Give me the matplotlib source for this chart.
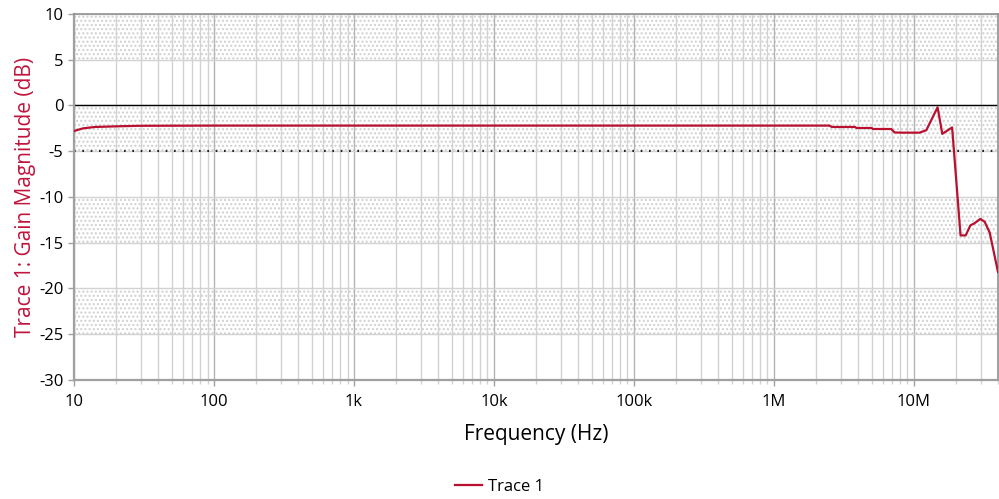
import matplotlib
matplotlib.use("Agg")
import matplotlib.pyplot as plt
from matplotlib.ticker import FixedLocator, LogLocator, NullFormatter

plt.rcParams["font.family"] = ["Open Sans", "DejaVu Sans"]
plt.rcParams["axes.unicode_minus"] = False
plt.rcParams["hatch.linewidth"] = 1.0

# frequency (Hz) and gain (dB)
freq_hz = [10, 11.6, 14.1, 20, 29.6, 100, 1e3, 1e4, 1e5, 1e6, 2.5e6, 2.6e6, 3.8e6, 3.9e6,
           5.0e6, 5.1e6, 6.9e6, 7.3e6, 8.2e6, 11.0e6, 12.3e6, 14.8e6, 16.0e6, 18.8e6,
           21.6e6, 23.5e6, 25.4e6, 27.0e6, 29.9e6, 32.1e6, 34.9e6, 40e6]
gain_db = [-2.79, -2.5, -2.35, -2.28, -2.22, -2.2, -2.2, -2.2, -2.2, -2.2, -2.2, -2.35, -2.35, -2.46,
           -2.46, -2.57, -2.57, -2.95, -2.97, -2.97, -2.7, -0.2, -3.1, -2.4,
           -14.2, -14.2, -13.1, -12.9, -12.4, -12.7, -13.9, -18.2]

x_ticks = [10, 100, 1e3, 1e4, 1e5, 1e6, 1e7]
x_labels = ["10", "100", "1k", "10k", "100k", "1M", "10M"]
y_ticks = [-30, -25, -20, -15, -10, -5, 0, 5, 10]
shaded_bands = [(5, 10), (-5, 0), (-15, -10), (-25, -20)]

red = "#b8102e"
grid_gray = "#d2d2d2"
axis_gray = "#a0a0a0"

fig = plt.figure(figsize=(9.99, 4.99), dpi=100)
ax = fig.add_axes([0.0741, 0.2385, 0.9249, 0.7335])

for lo, hi in shaded_bands:
    ax.axhspan(lo, hi, facecolor="none", edgecolor="#d0d0d0", hatch="....", linewidth=0, zorder=0)

ax.set_xscale("log")
ax.set_xlim(10, 40e6)
ax.set_ylim(-30, 10)

ax.xaxis.set_major_locator(FixedLocator(x_ticks))
ax.set_xticklabels(x_labels)
ax.xaxis.set_minor_locator(LogLocator(base=10, subs=range(2, 10)))
ax.xaxis.set_minor_formatter(NullFormatter())
ax.set_yticks(y_ticks)

ax.grid(True, which="major", axis="x", color="#b4b4b4", linewidth=1.0, zorder=1)
ax.grid(True, which="minor", axis="x", color=grid_gray, linewidth=1.0, zorder=1)
ax.grid(True, which="major", axis="y", color=grid_gray, linewidth=1.0, zorder=1)
ax.set_axisbelow(True)

ax.axhline(0, color="black", linewidth=1.0, zorder=2)
ax.axhline(-5, color="black", linewidth=1.2, linestyle=(0, (1, 4)), zorder=2)

ax.plot(freq_hz, gain_db, color=red, linewidth=1.6, label="Trace 1", zorder=3)

for side in ["left", "bottom"]:
    ax.spines[side].set_color(axis_gray)
    ax.spines[side].set_linewidth(1.6)
for side in ["top", "right"]:
    ax.spines[side].set_color("#909090")
    ax.spines[side].set_linewidth(1.2)

ax.tick_params(axis="both", which="major", labelsize=12, color=axis_gray, length=4, width=1)
ax.tick_params(axis="x", which="minor", color=grid_gray, length=3, width=1)
ax.tick_params(axis="x", pad=6)

ax.set_xlabel("Frequency (Hz)", fontsize=15, labelpad=10)
ax.set_ylabel("Trace 1: Gain Magnitude (dB)", fontsize=15, color="#c0143c", labelpad=2)

fig.legend(loc="lower center", bbox_to_anchor=(0.5, -0.022), frameon=False, fontsize=12,
           handlelength=1.6, handletextpad=0.4)

fig.savefig("out.png", dpi=100)
